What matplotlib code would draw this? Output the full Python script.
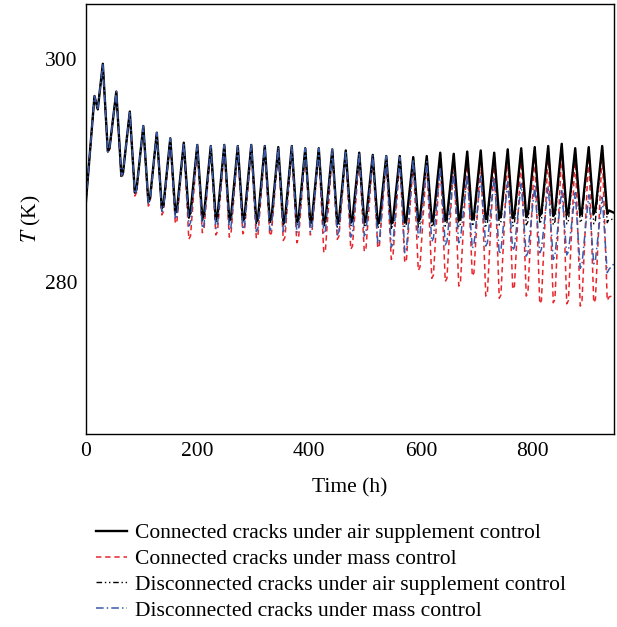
import numpy as np
import matplotlib
matplotlib.use("Agg")
import matplotlib.pyplot as plt

plt.rcParams['font.family'] = ['Liberation Serif', 'DejaVu Serif']
plt.rcParams['mathtext.fontset'] = 'stix'

# daily cycles: one peak every ~24 h
peak_hours = 30.5 + 24.15 * np.arange(38)
start_hours = [0, 15.6, 21.5]
start_temps = [287.0, 296.7, 295.5]
end_hour = 945

# connected cracks, air supplement control
ca_peak = [299.6, 297.1, 295.3, 294.0, 293.4, 292.9, 292.5, 292.3, 292.2, 292.3,
           292.2, 292.3, 292.2, 292.1, 292.2, 292.0, 292.0, 291.9, 291.8, 291.6,
           291.4, 291.3, 291.3, 291.2, 291.3, 291.6, 291.5, 291.7, 291.8, 291.6,
           291.9, 292.0, 292.1, 292.2, 292.4, 292.0, 292.1, 292.2]
ca_trough = [291.7, 289.5, 288.0, 287.2, 286.6, 286.2, 285.9, 285.7, 285.6, 285.5,
             285.5, 285.4, 285.4, 285.3, 285.3, 285.3, 285.2, 285.2, 285.3, 285.3,
             285.2, 285.2, 285.3, 285.4, 285.4, 285.5, 285.5, 285.6, 285.6, 285.7,
             285.7, 285.8, 285.9, 285.9, 286.0, 286.0, 286.1, 286.1]
ca_end = 286.2

# connected cracks, mass control
cm_peak = [299.5, 297.0, 295.2, 293.9, 293.3, 292.8, 292.4, 292.1, 292.0, 292.0,
           291.9, 292.0, 291.9, 291.8, 291.9, 291.7, 291.7, 291.6, 291.5, 291.3,
           291.1, 291.0, 291.0, 290.9, 291.0, 291.2, 291.1, 291.3, 291.4, 291.2,
           291.5, 291.6, 291.7, 291.8, 292.0, 291.6, 291.7, 291.8]
cm_trough = [291.6, 289.3, 287.7, 286.8, 286.0, 285.2, 283.8, 284.4, 284.2, 284.0,
             284.3, 283.9, 284.1, 283.7, 283.5, 284.2, 282.6, 283.8, 282.9, 282.7,
             283.0, 282.0, 281.7, 281.0, 280.3, 280.0, 279.6, 280.5, 278.7, 278.5,
             279.3, 278.7, 278.0, 278.1, 278.0, 277.8, 278.1, 278.3]
cm_end = 278.8

# disconnected cracks, air supplement control
da_peak = [299.6, 297.1, 295.3, 294.0, 293.4, 292.9, 292.5, 292.3, 292.2, 292.3,
           292.2, 292.3, 292.2, 292.1, 292.2, 292.0, 292.0, 291.9, 291.8, 291.6,
           291.4, 291.3, 291.3, 291.2, 291.3, 291.6, 291.5, 291.7, 291.8, 291.6,
           291.9, 292.0, 292.1, 292.2, 292.4, 292.0, 292.1, 292.2]
da_trough = [291.7, 289.5, 288.0, 287.1, 286.5, 286.0, 285.7, 285.5, 285.4, 285.3,
             285.3, 285.2, 285.2, 285.1, 285.1, 285.0, 285.0, 284.9, 285.0, 284.9,
             284.8, 284.8, 284.9, 284.9, 284.9, 285.0, 284.9, 285.0, 285.0, 285.1,
             285.0, 285.1, 285.2, 285.1, 285.2, 285.3, 285.2, 285.3]
da_end = 285.6

# disconnected cracks, mass control
dm_peak = [299.6, 297.1, 295.3, 294.0, 293.4, 292.9, 292.5, 292.3, 292.2, 292.3,
           292.2, 292.3, 292.2, 292.1, 292.2, 292.0, 292.0, 291.9, 291.8, 291.6,
           291.4, 291.3, 291.2, 291.0, 290.8, 290.3, 289.8, 289.6, 289.5, 289.4,
           289.0, 288.8, 288.6, 288.6, 288.3, 288.0, 287.8, 287.6]
dm_trough = [291.7, 289.5, 287.9, 287.0, 286.3, 285.6, 285.0, 284.8, 284.8, 284.6,
             284.7, 284.5, 284.6, 284.5, 284.4, 284.5, 284.3, 284.2, 284.0, 284.1,
             283.4, 283.1, 282.6, 284.0, 283.6, 283.3, 283.5, 283.0, 283.2, 282.5,
             282.8, 282.3, 282.6, 282.0, 282.4, 281.2, 281.6, 280.8]
dm_end = 281.6

labels = ["Connected cracks under air supplement control",
          "Connected cracks under mass control",
          "Disconnected cracks under air supplement control",
          "Disconnected cracks under mass control"]


def build_path(peaks, troughs, end_value):
    t = list(start_hours)
    v = list(start_temps)
    for tp, p, tr in zip(peak_hours, peaks, troughs):
        t += [tp, tp + 9, tp + 12]
        v += [p, tr, tr + 0.3]
    t.append(end_hour)
    v.append(end_value)
    return t, v


fig = plt.figure(figsize=(6.17, 6.27), dpi=100)
ax = fig.add_axes([0.139, 0.308, 0.856, 0.686])

styles = [
    (ca_peak, ca_trough, ca_end, dict(color='black', lw=1.7, ls='-', zorder=4)),
    (cm_peak, cm_trough, cm_end, dict(color='#e8262b', lw=1.1, ls=(0, (3.5, 2.5)), zorder=2)),
    (da_peak, da_trough, da_end, dict(color='black', lw=1.0, ls=(0, (4, 2, 1, 2, 1, 2)), zorder=3)),
    (dm_peak, dm_trough, dm_end, dict(color='#3a5bab', lw=1.1, ls=(0, (5, 2, 1, 2)), zorder=5)),
]
handles = []
for (pk, tr, end, st), lab in zip(styles, labels):
    t, v = build_path(pk, tr, end)
    h, = ax.plot(t, v, label=lab, **st)
    handles.append(h)

fs = 15.5
ax.set_xlim(0, 945)
ax.set_ylim(266.3, 305.0)
ax.set_xticks([0, 200, 400, 600, 800])
ax.set_yticks([280, 300])
ax.tick_params(length=0, labelsize=fs, pad=6)
for s in ax.spines.values():
    s.set_linewidth(1.0)
    s.set_zorder(6)
ax.set_xlabel("Time (h)", fontsize=fs, labelpad=12.5)
ax.set_ylabel("$T$ (K)", fontsize=fs, labelpad=1.5)

fig.legend(handles, labels, loc='upper left', bbox_to_anchor=(0.155, 0.1656),
           frameon=False, fontsize=fs, handlelength=1.45, handletextpad=0.4,
           labelspacing=0.27, borderpad=0, borderaxespad=0)

fig.savefig("out.png", dpi=100)
